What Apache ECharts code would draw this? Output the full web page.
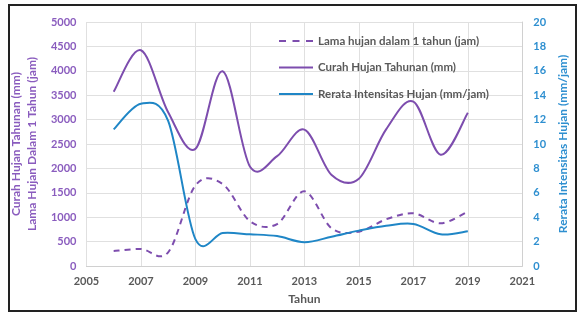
<!DOCTYPE html>
<html>
<head>
<meta charset="utf-8">
<script src="https://cdn.jsdelivr.net/npm/echarts@6/dist/echarts.min.js"></script>
<style>
html,body{margin:0;padding:0;background:#fff;}
#frame{position:absolute;left:8px;top:4px;width:565px;height:304px;border:2px solid #222;box-sizing:content-box;}
#c{position:absolute;left:0;top:0;width:577px;height:312px;}
</style>
</head>
<body>
<div id="frame"></div>
<div id="c"></div>
<script>
const years = [2006, 2007, 2008, 2009, 2010, 2011, 2012, 2013, 2014, 2015, 2016, 2017, 2018, 2019];
const lamaHujan = [307, 348, 280, 1650, 1680, 920, 860, 1530, 772, 703, 957, 1080, 875, 1113];
const curahHujan = [3570, 4420, 3150, 2400, 3990, 2040, 2250, 2795, 1865, 1790, 2800, 3370, 2280, 3140];
const intensitas = [11.2, 13.3, 11.9, 2.2, 2.7, 2.6, 2.45, 1.95, 2.4, 2.9, 3.3, 3.45, 2.6, 2.85];
const leftTicks = [0, 500, 1000, 1500, 2000, 2500, 3000, 3500, 4000, 4500, 5000];
const rightTicks = [0, 2, 4, 6, 8, 10, 12, 14, 16, 18, 20];
const xTicks = [2005, 2007, 2009, 2011, 2013, 2015, 2017, 2019, 2021];

const purple = '#7D4DAE';
const purpleText = '#8A5CBE';
const blue = '#1F86C6';
const blueText = '#2E8FD0';
const gray = '#595959';
const FONT = 'Lato';

const pair = (vals) => years.map((y, i) => [y, vals[i]]);

// Smoothed line (Catmull-Rom / Excel style) through the library's coordinate system
function smoothRenderer(vals, color, dash) {
  return function (params, api) {
    if (params.dataIndex !== 0) return null;
    const p = years.map((y, i) => api.coord([y, vals[i]]));
    let d = 'M' + p[0][0] + ',' + p[0][1];
    for (let i = 0; i < p.length - 1; i++) {
      const p0 = p[i - 1] || p[i];
      const p1 = p[i];
      const p2 = p[i + 1];
      const p3 = p[i + 2] || p[i + 1];
      const c1x = p1[0] + (p2[0] - p0[0]) / 6;
      const c1y = p1[1] + (p2[1] - p0[1]) / 6;
      const c2x = p2[0] - (p3[0] - p1[0]) / 6;
      const c2y = p2[1] - (p3[1] - p1[1]) / 6;
      d += ' C' + c1x + ',' + c1y + ' ' + c2x + ',' + c2y + ' ' + p2[0] + ',' + p2[1];
    }
    return {
      type: 'path',
      shape: {pathData: d},
      style: {fill: 'none', stroke: color, lineWidth: 2, lineDash: dash || null, lineCap: 'butt'}
    };
  };
}

const solidIcon = 'path://M0,0H34V2H0Z';
const dashIcon = 'path://M0,0H7V2H0Z M13.5,0H20.5V2H13.5Z M27,0H34V2H27Z';

const chart = echarts.init(document.getElementById('c'), null, {renderer: 'canvas'});
chart.setOption({
  backgroundColor: 'transparent',
  animation: false,
  textStyle: {fontFamily: FONT},
  grid: {left: 86, right: 47, top: 22, bottom: 46},
  legend: {
    orient: 'vertical',
    left: 274, top: 30,
    itemWidth: 34, itemHeight: 14, itemGap: 14.5,
    textStyle: {color: gray, fontSize: 11.5, fontWeight: 'bold', fontFamily: FONT},
    data: [
      {name: 'Lama hujan dalam 1 tahun (jam)', icon: dashIcon},
      {name: 'Curah Hujan Tahunan (mm)', icon: solidIcon},
      {name: 'Rerata Intensitas Hujan (mm/jam)', icon: solidIcon}
    ]
  },
  xAxis: {
    type: 'value', min: 2005, max: 2021, interval: 2,
    name: 'Tahun', nameLocation: 'middle', nameGap: 27,
    nameTextStyle: {color: gray, fontSize: 12, fontWeight: 'bold'},
    axisLine: {show: true, lineStyle: {color: '#d0d0d0'}},
    axisTick: {show: false},
    axisLabel: {color: gray, fontSize: 11, fontWeight: 'bold', margin: 10,
      formatter: v => xTicks.includes(v) ? String(v) : ''},
    splitLine: {show: true, lineStyle: {color: '#e0e0e0'}}
  },
  yAxis: [
    {
      type: 'value', min: 0, max: 5000, interval: 500,
      name: 'Curah Hujan Tahunan (mm)\nLama Hujan Dalam 1 Tahun (jam)',
      nameLocation: 'middle', nameGap: 33, nameRotate: 90,
      nameTextStyle: {color: purpleText, fontSize: 12, fontWeight: 'bold', lineHeight: 16},
      axisLine: {show: false}, axisTick: {show: false},
      axisLabel: {color: purpleText, fontSize: 11, fontWeight: 'bold', margin: 10,
        formatter: v => leftTicks.includes(v) ? String(v) : ''},
      splitLine: {show: true, lineStyle: {color: '#e0e0e0'}}
    },
    {
      type: 'value', min: 0, max: 20, interval: 2,
      name: 'Rerata Intensitas Hujan (mm/jam)',
      nameLocation: 'middle', nameGap: 32, nameRotate: 90,
      nameTextStyle: {color: blueText, fontSize: 12, fontWeight: 'bold'},
      axisLine: {show: true, lineStyle: {color: '#d0d0d0'}}, axisTick: {show: false},
      axisLabel: {color: blueText, fontSize: 11, fontWeight: 'bold', margin: 11,
        formatter: v => rightTicks.includes(v) ? String(v) : ''},
      splitLine: {show: false}
    }
  ],
  series: [
    {
      name: 'Lama hujan dalam 1 tahun (jam)', type: 'custom', yAxisIndex: 0,
      data: pair(lamaHujan), encode: {x: 0, y: 1},
      itemStyle: {color: purple},
      renderItem: smoothRenderer(lamaHujan, purple, [6, 5])
    },
    {
      name: 'Curah Hujan Tahunan (mm)', type: 'custom', yAxisIndex: 0,
      data: pair(curahHujan), encode: {x: 0, y: 1},
      itemStyle: {color: purple},
      renderItem: smoothRenderer(curahHujan, purple)
    },
    {
      name: 'Rerata Intensitas Hujan (mm/jam)', type: 'custom', yAxisIndex: 1,
      data: pair(intensitas), encode: {x: 0, y: 1},
      itemStyle: {color: blue},
      renderItem: smoothRenderer(intensitas, blue)
    }
  ]
});
</script>
</body>
</html>
